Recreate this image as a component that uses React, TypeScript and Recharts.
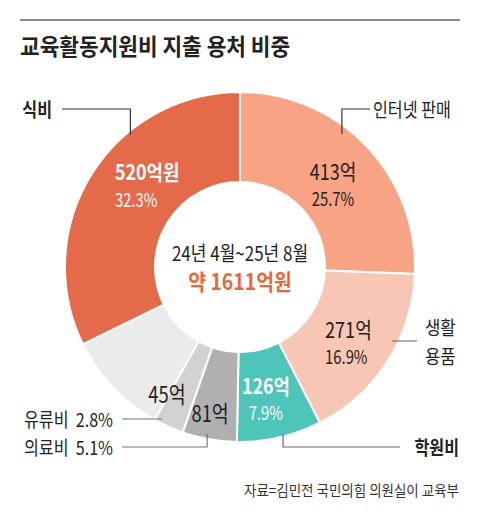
import React from 'react';
import { PieChart, Pie, Cell } from 'recharts';

const categories = ['인터넷 판매', '생활용품', '학원비', '의료비', '유류비', '기타', '식비'];
const amounts = [413, 271, 126, 81, 45, 155, 520];
const amountLabels = ['413억', '271억', '126억', '81억', '45억', '', '520억원'];
const shareLabels = ['25.7%', '16.9%', '7.9%', '5.1%', '2.8%', '', '32.3%'];
const colors = ['#F7A384', '#F8C6B4', '#4DC5B9', '#B0B0B0', '#D2D2D2', '#EBEBEB', '#E56A4A'];
const titleText = '교육활동지원비 지출 용처 비중';
const periodText = '24년 4월~25년 8월';
const totalText = '약 1611억원';
const sourceText = '자료=김민전 국민의힘 의원실이 교육부';

const data = categories.map((name, i) => ({
  name,
  value: amounts[i],
  amount: amountLabels[i],
  share: shareLabels[i],
}));

const FONT = "'Noto Sans CJK KR', 'Noto Sans', sans-serif";
const RAD = Math.PI / 180;

type STextProps = {
  x: number;
  y: number;
  anchor?: 'start' | 'middle' | 'end';
  size: number;
  weight?: number;
  fill?: string;
  sx?: number;
  children: React.ReactNode;
};

function SText({ x, y, anchor = 'middle', size, weight = 400, fill = '#222', sx = 0.85, children }: STextProps) {
  return (
    <g transform={`translate(${x},${y}) scale(${sx},1)`}>
      <text
        x={0}
        y={0}
        textAnchor={anchor}
        dominantBaseline="central"
        fontSize={size}
        fontWeight={weight}
        fill={fill}
        fontFamily={FONT}
        style={{ whiteSpace: 'pre' }}
      >
        {children}
      </text>
    </g>
  );
}

// placement of inside labels: angle shift from slice middle (deg) and radius
const insideLayout: any[] = [
  { dA: 2.1, r: 124.6, anchor: 'middle', big: 22, small: 18.5, bold: false, fill: '#222', sx: 0.82, two: true },
  { dA: 8.8, r: 113.4, anchor: 'start', big: 22, small: 18.5, bold: false, fill: '#222', sx: 0.82, two: true },
  { dA: 1.9, r: 133.6, anchor: 'middle', big: 21, small: 18.5, bold: true, fill: '#fff', sx: 0.85, two: true },
  { dA: 1.6, r: 148, anchor: 'middle', big: 23, bold: false, fill: '#222', sx: 0.8, two: false },
  { dA: 6, r: 145.6, anchor: 'middle', big: 23, bold: false, fill: '#222', sx: 0.8, two: false },
  null,
  { dA: 1.5, r: 149.8, anchor: 'start', big: 21, small: 18.5, bold: true, fill: '#fff', sx: 0.85, two: true },
];

// leader lines: start point (angle shift, radius), optional vertical elbow, horizontal end, text
const outsideLayout: any[] = [
  { dA: -8.7, r: 167.6, elbowY: -158, endX: 130, textX: 133, anchor: 'start', bold: false, stroke: '#333', mode: 'name' },
  { dA: -6.6, r: 169, elbowY: null, endX: 177, textX: 185, anchor: 'start', bold: false, stroke: '#777', mode: 'wrap' },
  { dA: -1.4, r: 172.4, elbowY: 180, endX: 160, textX: 219, anchor: 'end', bold: true, stroke: '#666', mode: 'name' },
  { dA: 1.1, r: 170, elbowY: 180, endX: -118, textX: -127, anchor: 'end', bold: false, stroke: '#777', mode: 'nameShare' },
  { dA: 3, r: 170.8, elbowY: null, endX: -118, textX: -127, anchor: 'end', bold: false, stroke: '#777', mode: 'nameShare' },
  null,
  { dA: 18.5, r: 172, elbowY: -158, endX: -178, textX: -188, anchor: 'end', bold: true, stroke: '#333', mode: 'name' },
];

const renderLabel = (p: any) => {
  const { cx, cy, midAngle, index } = p;
  const theta = 90 - midAngle;
  const pt = (deg: number, r: number) => ({
    x: cx + r * Math.sin(deg * RAD),
    y: cy - r * Math.cos(deg * RAD),
  });
  const d = data[index];
  const inL = insideLayout[index];
  const outL = outsideLayout[index];
  const parts: React.ReactNode[] = [];

  if (index === 0) {
    parts.push(
      <SText key="c1" x={cx} y={cy - 15} size={20} sx={0.85} fill="#222">
        {periodText}
      </SText>,
      <SText key="c2" x={cx} y={cy + 13} size={22} weight={700} sx={0.88} fill="#EF6634">
        {totalText}
      </SText>
    );
  }

  if (inL) {
    const c = pt(theta + inL.dA, inL.r);
    if (inL.two) {
      parts.push(
        <SText key="a" x={c.x} y={c.y - 13.5} anchor={inL.anchor} size={inL.big} weight={inL.bold ? 700 : 400} fill={inL.fill} sx={inL.sx}>
          {d.amount}
        </SText>,
        <SText key="s" x={c.x} y={c.y + 14.5} anchor={inL.anchor} size={inL.small} weight={400} fill={inL.fill} sx={0.8}>
          {d.share}
        </SText>
      );
    } else {
      parts.push(
        <SText key="a" x={c.x} y={c.y} anchor={inL.anchor} size={inL.big} weight={400} fill={inL.fill} sx={inL.sx}>
          {d.amount}
        </SText>
      );
    }
  }

  if (outL) {
    const s = pt(theta + outL.dA, outL.r);
    const yLine = outL.elbowY === null ? s.y : cy + outL.elbowY;
    const pts =
      outL.elbowY === null
        ? `${s.x},${s.y} ${cx + outL.endX},${yLine}`
        : `${s.x},${s.y} ${s.x},${yLine} ${cx + outL.endX},${yLine}`;
    parts.push(<polyline key="l" points={pts} fill="none" stroke={outL.stroke} strokeWidth={1.2} />);
    const tx = cx + outL.textX;
    const weight = outL.bold ? 700 : 400;
    if (outL.mode === 'wrap') {
      parts.push(
        <SText key="t1" x={tx} y={yLine - 14.5} anchor={outL.anchor} size={19} sx={0.88} weight={weight}>
          {d.name.slice(0, 2)}
        </SText>,
        <SText key="t2" x={tx} y={yLine + 14.5} anchor={outL.anchor} size={19} sx={0.88} weight={weight}>
          {d.name.slice(2)}
        </SText>
      );
    } else {
      const txt = outL.mode === 'nameShare' ? `${d.name}  ${d.share}` : d.name;
      parts.push(
        <SText key="t" x={tx} y={yLine} anchor={outL.anchor} size={19} sx={0.85} weight={weight}>
          {txt}
        </SText>
      );
    }
  }

  return <g key={`lab-${index}`}>{parts}</g>;
};

export default function App() {
  return (
    <div style={{ position: 'absolute', left: 0, top: 0, width: 480, height: 530, background: '#fff' }}>
      <svg width={480} height={530} style={{ position: 'absolute', left: 0, top: 0 }}>
        <rect x={20} y={19} width={440} height={2} fill="#8c8c8c" />
        <SText x={20} y={45} anchor="start" size={23} weight={700} sx={0.93} fill="#222">
          {titleText}
        </SText>
        <SText x={459} y={489} anchor="end" size={15} sx={0.9} fill="#333">
          {sourceText}
        </SText>
      </svg>
      <div style={{ position: 'absolute', left: 0, top: 0 }}>
        <PieChart width={480} height={530} margin={{ top: 0, right: 0, bottom: 0, left: 0 }}>
          <Pie
            data={data}
            dataKey="value"
            nameKey="name"
            cx={240}
            cy={267}
            innerRadius={85}
            outerRadius={175}
            startAngle={90}
            endAngle={-270}
            stroke="#fff"
            strokeWidth={2}
            isAnimationActive={false}
            labelLine={false}
            label={renderLabel}
          >
            {data.map((d, i) => (
              <Cell key={d.name} fill={colors[i]} />
            ))}
          </Pie>
        </PieChart>
      </div>
    </div>
  );
}
